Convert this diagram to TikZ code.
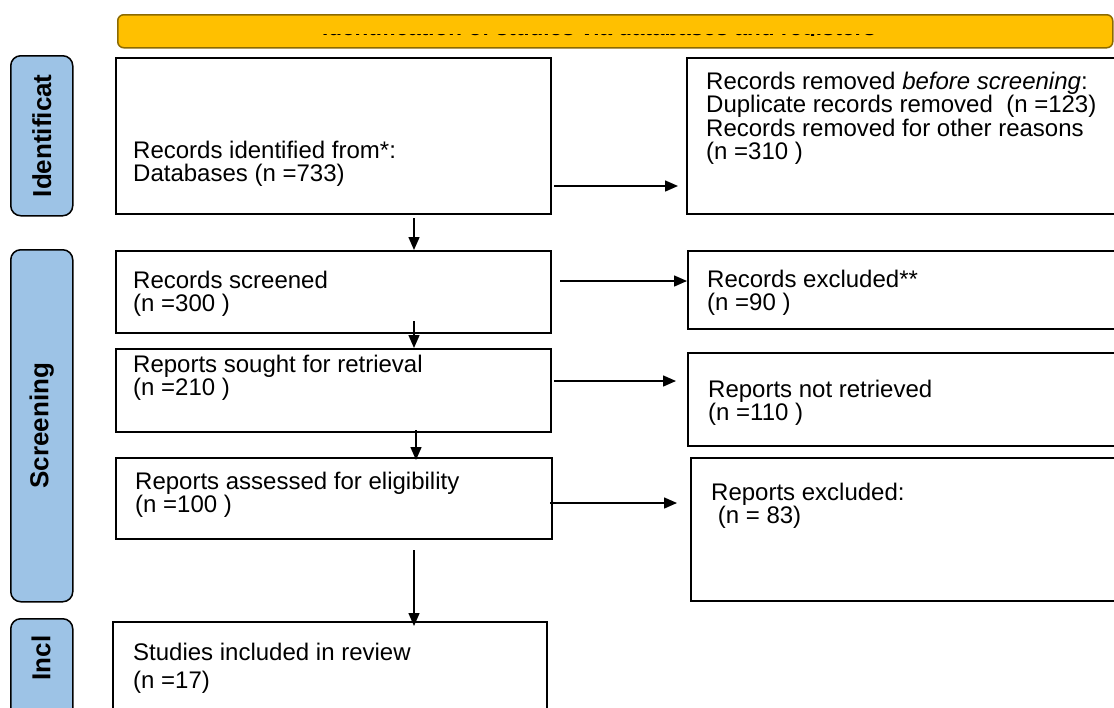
\documentclass[tikz,border=0pt]{standalone}
\usepackage{fontspec}
\setmainfont{Liberation Sans}
\usetikzlibrary{arrows.meta,calc}
\definecolor{bannerfill}{HTML}{FFC000}
\definecolor{bannerline}{HTML}{8C6A00}
\definecolor{sidefill}{HTML}{9DC3E6}
\newcommand\mlines[1]{\vtop{\halign{##\hfil\cr#1\crcr}}}
\begin{document}
\begin{tikzpicture}[x=1pt,y=-1pt,
  box/.style={draw=black, line width=2pt, inner sep=0pt, anchor=north west},
  sidebox/.style={draw=black, fill=sidefill, line width=1.5pt, rounded corners=10pt, inner sep=0pt, anchor=north west},
  txt/.style={anchor=base west, inner sep=0pt, font=\fontsize{24}{23.5}\selectfont},
  sidetxt/.style={rotate=90, inner sep=0pt, font=\fontsize{26}{26}\selectfont\bfseries},
  arr/.style={line width=1.5pt, -{Triangle[length=13pt,width=11pt]}}]
\useasboundingbox (0,0) rectangle (1114,707);
\fill[white] (0,0) rectangle (1114,707);

% banner
\node[draw=bannerline, fill=bannerfill, line width=1.5pt, rounded corners=6pt, inner sep=0pt,
      anchor=north west, minimum width=995pt, minimum height=33pt] (banner) at (117,14) {};
\begin{scope}
  \clip (117,34.3) rectangle (1112,35.3);
  \node[anchor=base, inner sep=0pt, font=\fontsize{22.5}{22.5}\selectfont\bfseries] (bannertxt) at (599,35.3)
    {Identification of studies via databases and registers};
\end{scope}

% side labels
\node[sidebox, minimum width=62pt, minimum height=160pt] (sideI) at (10,55) {};
\node[sidetxt] (sideIt) at (sideI.center) {Identificat};
\node[sidebox, minimum width=62pt, minimum height=352pt] (sideS) at (10,249) {};
\node[sidetxt] (sideSt) at (sideS.center) {Screening};
\node[sidebox, minimum width=62pt, minimum height=120pt] (sideN) at (10,618) {};
\node[sidetxt] (sideNt) at (41,658) {Incl};

% boxes
\node[box, minimum width=435pt, minimum height=156pt] (ident) at (115,57) {};
\node[box, minimum width=440pt, minimum height=156pt] (removed) at (686,57) {};
\node[box, minimum width=435pt, minimum height=82pt] (screened) at (115,250) {};
\node[box, minimum width=440pt, minimum height=78pt] (excla) at (687,250) {};
\node[box, minimum width=435pt, minimum height=83pt] (sought) at (115,348) {};
\node[box, minimum width=440pt, minimum height=93pt] (notret) at (687,352) {};
\node[box, minimum width=436pt, minimum height=81pt] (assessed) at (115,457) {};
\node[box, minimum width=440pt, minimum height=143pt] (exclb) at (690,457) {};
\node[box, minimum width=434pt, minimum height=120pt] (studies) at (112,621) {};

% texts
\node[txt] (t1) at (133,158) {\mlines{Records identified from*:\cr Databases (n =733)}};
\node[txt] (t2) at (706,89) {\mlines{Records removed \textit{before screening}:\cr
  Duplicate records removed\ \ (n =123)\cr Records removed for other reasons\cr (n =310 )}};
\node[txt] (t3) at (133,288) {\mlines{Records screened\cr (n =300 )}};
\node[txt] (t4) at (707,287) {\mlines{Records excluded**\cr (n =90 )}};
\node[txt] (t5) at (133,372) {\mlines{Reports sought for retrieval\cr (n =210 )}};
\node[txt] (t6) at (708,397) {\mlines{Reports not retrieved\cr (n =110 )}};
\node[txt] (t7) at (135,489) {\mlines{Reports assessed for eligibility\cr (n =100 )}};
\node[txt] (t8) at (711,500) {\mlines{Reports excluded:\cr\ (n = 83)}};
\node[txt, font=\fontsize{24}{28}\selectfont] (t9) at (133,660) {\mlines{Studies included in review\cr (n =17)}};

% connector guides
\coordinate (colA) at (414,0);
\coordinate (colB) at (416,0);
\coordinate (rowA) at (0,186);
\coordinate (rowB) at (0,281);
\coordinate (rowC) at (0,381);
\coordinate (rowD) at (0,503);

% connectors
\draw[arr] ([xshift=2pt]ident.east |- rowA) -- ([xshift=-8pt]removed.west |- rowA);
\draw[arr] ([yshift=-3pt]ident.south -| colA) -- (screened.north -| colA);
\draw[arr] ([xshift=8pt]screened.east |- rowB) -- (excla.west |- rowB);
\draw[arr] ([yshift=13pt]screened.south -| colA) -- (sought.north -| colA);
\draw[arr] ([xshift=2pt]sought.east |- rowC) -- ([xshift=-11pt]notret.west |- rowC);
\draw[arr] ([yshift=3pt]sought.south -| colB) -- ([yshift=-3pt]assessed.north -| colB);
\draw[arr] ([xshift=-3pt]assessed.east |- rowD) -- ([xshift=-13pt]exclb.west |- rowD);
\draw[arr] ([yshift=-10pt]assessed.south -| colA) -- ([yshift=-5pt]studies.north -| colA);
\end{tikzpicture}
\end{document}
